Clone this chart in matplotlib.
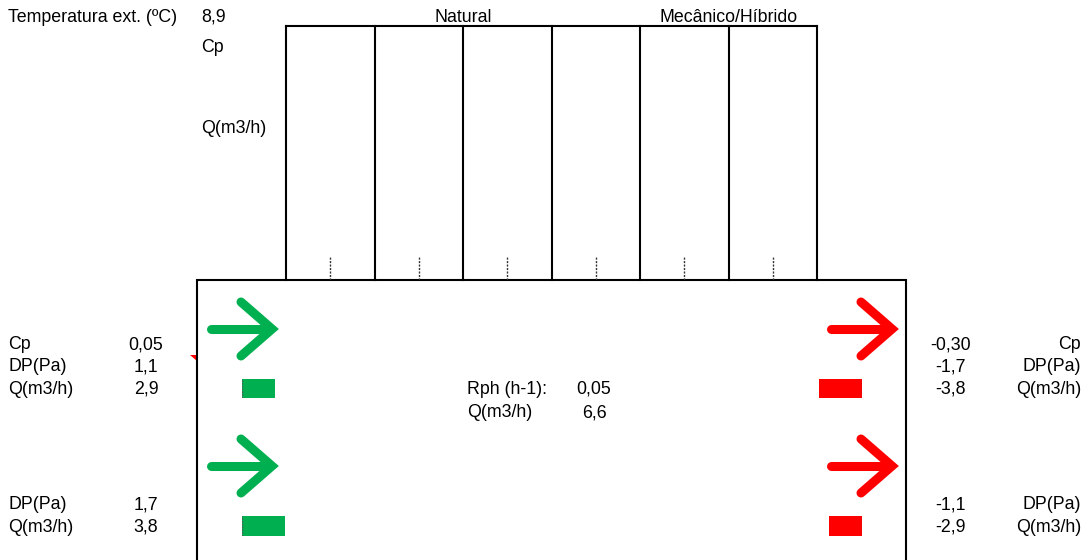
import matplotlib
matplotlib.use("Agg")
import matplotlib.pyplot as plt
from matplotlib.patches import Polygon

# ---------------- data ----------------
temp_ext = 8.9
chimney_groups = ["Natural", "Mecânico/Híbrido"]
chimney_q = [0, 0, 0, 0, 0, 0]          # empty chimney flows (no bars)

left_labels_1 = ["Cp", "DP(Pa)", "Q(m3/h)"]
left_values_1 = [0.05, 1.1, 2.9]
left_labels_2 = ["DP(Pa)", "Q(m3/h)"]
left_values_2 = [1.7, 3.8]

right_labels_1 = ["Cp", "DP(Pa)", "Q(m3/h)"]
right_values_1 = [-0.30, -1.7, -3.8]
right_labels_2 = ["DP(Pa)", "Q(m3/h)"]
right_values_2 = [-1.1, -2.9]

q_in = [2.9, 3.8]       # green bars
q_out = [-3.8, -2.9]    # red bars
rph = 0.05
q_total = 6.6

# ---------------- style ----------------
W, H = 1088, 560
GREEN = "#00B050"
RED = "#FF0000"
FONT = "Liberation Sans"
FS = 12.8
plt.rcParams["font.family"] = [FONT, "DejaVu Sans"]


def fmt(v, d=1):
    return f"{v:.{d}f}".replace(".", ",")


fig = plt.figure(figsize=(W / 100, H / 100), dpi=100)
ax = fig.add_axes([0, 0, 1, 1])
ax.set_xlim(0, W)
ax.set_ylim(H, 0)
ax.axis("off")


def pix_axes(x0, y0, x1, y1):
    a = fig.add_axes([x0 / W, 1 - y1 / H, (x1 - x0) / W, (y1 - y0) / H])
    a.axis("off")
    a.patch.set_alpha(0)
    return a


def txt(x, y, s, ha="left"):
    ax.text(x, y, s, ha=ha, va="baseline", fontsize=FS, color="black")


# ---------------- top texts ----------------
txt(8, 22, "Temperatura ext. (ºC)")
txt(201, 22, fmt(temp_ext))
txt(201, 52, "Cp")
txt(201, 133, "Q(m3/h)")

# ---------------- chimneys ----------------
cx0, cx1, ctop, cbot = 286, 817, 26, 280
n = len(chimney_q)
cw = (cx1 - cx0) / n
for i in range(n + 1):
    x = cx0 + i * cw
    ax.plot([x, x], [cbot, ctop], color="black", lw=1.5, solid_capstyle="projecting")
ax.plot([cx0, cx1], [ctop, ctop], color="black", lw=1.5)
group_centers = [cx0 + 2 * cw, cx0 + 5 * cw]
for g, gx in zip(chimney_groups, group_centers):
    ax.text(gx, 22, g, ha="center", va="baseline", fontsize=FS, color="black")

for i, q in enumerate(chimney_q):
    xc = cx0 + (i + 0.5) * cw
    a = pix_axes(xc - 40, 257, xc + 40, 280)
    a.bar([0], [q], width=0.5, color=GREEN)
    a.set_xlim(-1, 1)
    a.set_ylim(0, 1)
    a.axvline(0, color="#333333", lw=1, ls=(0, (1.5, 1)))

# ---------------- main box ----------------
bx0, bx1, btop = 197, 906, 280
ax.plot([bx0, bx0, bx1, bx1], [H + 5, btop, btop, H + 5], color="black", lw=1.5,
        solid_joinstyle="miter")

# comment marker
ax.add_patch(Polygon([(190, 355), (197, 355), (197, 361)], closed=True,
                     color=RED, lw=0))


# ---------------- arrows ----------------
def arrow(x0, x1, y, color):
    ax.plot([x0, x1 - 4], [y, y], color=color, lw=6.5, solid_capstyle="round")
    ax.plot([x1 - 31, x1, x1 - 31], [y - 27, y, y + 27], color=color, lw=6.5,
            solid_capstyle="round", solid_joinstyle="miter")


arrow(211, 272, 329, GREEN)
arrow(211, 272, 466, GREEN)
arrow(831, 892, 329, RED)
arrow(831, 892, 466, RED)

# ---------------- bars ----------------
scale = 11.35  # px per unit
span = 60
bar_rows = [(379, 398), (516, 536)]
for q, (y0, y1) in zip(q_in, bar_rows):
    a = pix_axes(242, y0, 242 + span, y1)
    a.barh([0], [q], height=1, color=GREEN)
    a.set_xlim(0, span / scale)
    a.set_ylim(-0.5, 0.5)
    a.axvline(0, color="#555555", lw=1, ls=(0, (1, 1)))
for q, (y0, y1) in zip(q_out, bar_rows):
    a = pix_axes(862 - span, y0, 862, y1)
    a.barh([0], [q], height=1, color=RED)
    a.set_xlim(-span / scale, 0)
    a.set_ylim(-0.5, 0.5)
    a.axvline(0, color="#555555", lw=1, ls=(0, (1, 1)))

# ---------------- side tables ----------------
rows1 = [349, 371, 394]
rows2 = [509, 532]
for lab, val, y in zip(left_labels_1, left_values_1, rows1):
    txt(8, y, lab)
    txt(146, y, fmt(val, 2 if lab == "Cp" else 1), ha="center")
for lab, val, y in zip(left_labels_2, left_values_2, rows2):
    txt(8, y, lab)
    txt(146, y, fmt(val), ha="center")
for lab, val, y in zip(right_labels_1, right_values_1, rows1):
    txt(1081, y, lab, ha="right")
    txt(951, y, fmt(val, 2 if lab == "Cp" else 1), ha="center")
for lab, val, y in zip(right_labels_2, right_values_2, rows2):
    txt(1081, y, lab, ha="right")
    txt(951, y, fmt(val), ha="center")

# ---------------- centre ----------------
txt(467, 394, "Rph (h-1):")
txt(594, 394, fmt(rph, 2), ha="center")
txt(467, 417, "Q(m3/h)")
txt(594, 417, fmt(q_total), ha="center")

fig.savefig("out.png", dpi=100)
